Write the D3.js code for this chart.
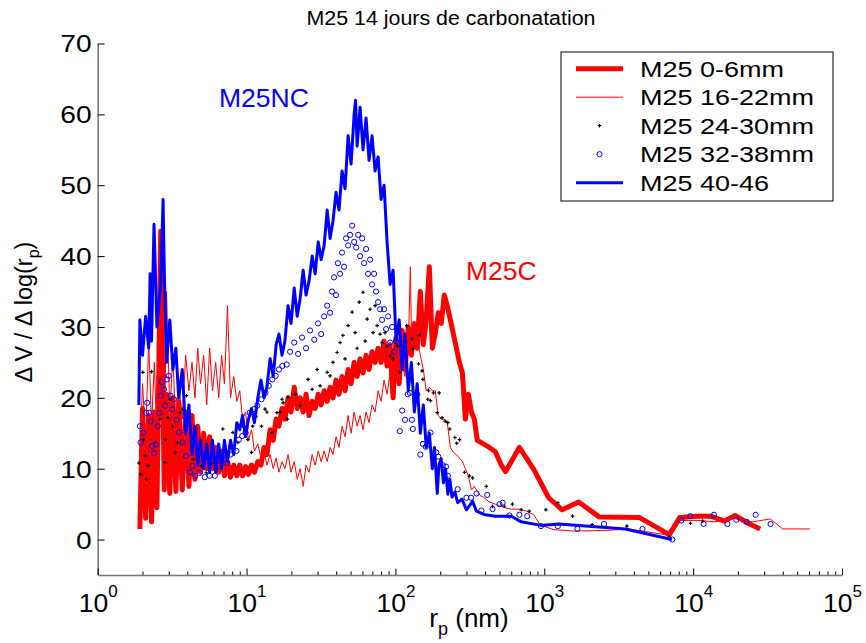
<!DOCTYPE html>
<html><head><meta charset="utf-8">
<script src="https://cdn.jsdelivr.net/npm/d3@7"></script>
<style>body{margin:0;background:#fff} svg{display:block}</style>
</head><body><svg width="866" height="643"></svg>
<script>
// ---------- texts ----------
const titleText = "M25 14 jours de carbonatation";
const yTicks = [0, 10, 20, 30, 40, 50, 60, 70];
const xTickExp = [0, 1, 2, 3, 4, 5];
const legendLabels = ["M25 0-6mm", "M25 16-22mm", "M25 24-30mm", "M25 32-38mm", "M25 40-46"];

// ---------- data: [r_p (nm), dV/dlog(r_p)] ----------
const red0to6 = [[1.92,1.5],[2.0,18.5],[2.1,3],[2.2,17.5],[2.3,2.5],[2.4,18],[2.5,4.5],[2.65,43.5],[2.8,7],[2.9,20.5],[3.05,6.5],[3.2,20],[3.35,6.8],[3.5,19.5],[3.7,7],[3.9,18],[4.1,7.5],[4.3,17.5],[4.5,8.5],[4.7,16],[4.9,9.5],[5.15,15],[5.4,10],[5.65,14.5],[5.9,10],[6.2,13],[6.5,9.5],[6.8,12.5],[7.1,9],[7.45,11],[7.8,8.8],[8.2,10.5],[8.6,9],[9.0,10.5],[9.4,9],[9.85,10.3],[10.3,9.2],[10.8,10.5],[11.3,9.5],[11.9,11],[12.5,10.5],[13.1,13],[13.7,12],[14.4,15.5],[15.1,14],[15.8,17],[16.5,16],[17.3,18.5],[18.1,17],[19.0,20],[19.9,18],[20.9,21.5],[21.9,18.5],[22.9,20],[24.0,18],[25.1,20.5],[26.3,17.5],[27.6,19.5],[28.9,18.5],[30.3,20.5],[31.7,19],[33.2,21],[34.8,19.5],[36.4,21.5],[38.1,20],[39.9,22.5],[41.8,20.5],[43.8,23],[45.9,21],[48.1,24],[50.4,22],[52.8,25],[55.3,23],[57.9,25.5],[60.6,23.5],[63.5,26],[66.5,24],[69.7,26.5],[73.0,25],[76.5,27],[80.1,25],[83.9,28],[87.9,24.5],[92.1,27.5],[96.5,20],[101,28.5],[106,22],[111,29.5],[116,24],[122,30],[128,26],[134,30.5],[140,27],[147,35],[154,27.5],[161,31],[169,38.5],[177,27],[185,29],[194,32],[203,30.5],[213,34.5],[223,33],[234,31],[245,29],[257,27],[269,25],[282,23.5],[295,17],[309,20.5],[324,18],[339,17],[355,14],[390,13.5],[428,13],[469,12.4],[515,10.5],[550,9.6],[680,13],[850,9.9],[1070,5.9],[1320,4.2],[1700,5.3],[2340,3.2],[4370,3.1],[6920,0.7],[8130,3.1],[10700,3.3],[13200,3.3],[16200,2.6],[19100,3.4],[23400,2.3],[28200,1.5]];

const red16to22 = [[1.92,12],[2.0,22],[2.1,14],[2.2,28],[2.3,16],[2.4,25],[2.5,14],[2.65,20],[2.8,12],[2.9,35],[3.05,18],[3.2,26],[3.35,15],[3.5,22],[3.7,17],[3.9,26],[4.1,21],[4.3,25],[4.5,20],[4.7,27],[4.9,22],[5.15,26],[5.4,19],[5.65,27],[5.9,21],[6.2,25],[6.5,20],[6.8,26],[7.1,22],[7.45,33],[7.8,20],[8.2,23],[8.6,19.5],[9.0,21],[9.4,17],[9.85,18],[10.3,14],[10.8,15.5],[11.3,12.5],[11.9,13.5],[12.5,11.5],[13.1,12.5],[13.7,10.5],[14.4,12],[15.1,10],[15.8,11.5],[16.5,9.5],[17.3,11],[18.1,10],[19.0,12],[19.9,9.5],[20.9,11],[21.9,8.5],[22.9,10],[24.0,7.5],[25.1,10.5],[26.3,9.5],[27.6,12],[28.9,10.5],[30.3,12.5],[31.7,11],[33.2,12.5],[34.8,11],[36.4,13],[38.1,12],[39.9,14.5],[41.8,13],[43.8,16],[45.9,14.5],[48.1,17.5],[50.4,15],[52.8,18],[55.3,16],[57.9,17.5],[60.6,15.5],[63.5,18],[66.5,16.5],[69.7,19],[73.0,18],[76.5,21],[80.1,19.5],[83.9,22.5],[87.9,20.5],[92.1,23.5],[96.5,21],[101,24],[106,22],[111,25],[116,23],[122,27],[126,38.5],[128,29],[134,27],[140,28.5],[147,26],[154,24],[161,21],[169,21.5],[177,21],[185,21],[194,17.5],[203,17],[213,17],[223,16.5],[234,13],[245,12.3],[257,12],[269,11.5],[282,11],[295,10],[309,9],[324,7],[339,7.5],[355,6.8],[372,6.2],[390,6],[428,5.3],[469,5],[540,4.5],[600,4.3],[690,4.3],[760,4.0],[850,3.5],[935,2.1],[1150,1.4],[1590,1.2],[2600,1.3],[3700,1.5],[6900,0.6],[7900,2.7],[10700,2.7],[14000,2.5],[18500,3.0],[25000,2.5],[33000,2.9],[40000,1.5],[61000,1.5]];

const black24to30 = [[1.89,10.8],[1.94,9.2],[2.01,23.6],[2.03,14.1],[2.08,11.8],[2.13,8.5],[2.18,10.4],[2.30,23.7],[2.43,13.7],[2.55,32.5],[2.62,17],[2.82,10.9],[2.86,14.1],[2.96,17.2],[3.06,19.8],[3.18,16],[3.31,12.3],[3.43,13.7],[3.58,17.9],[3.72,18.4],[3.95,20.3],[4.17,16],[4.38,11.3],[4.62,12.3],[4.98,10.4],[5.37,9.4],[5.8,10.8],[6.27,9.9],[6.93,15.6],[7.3,11.8],[7.7,13.2],[8.1,15.1],[8.75,13.7],[9.45,16],[10.2,14.1],[10.8,12.3],[11.0,16],[11.6,17.4],[12.6,16],[13.3,18.4],[13.7,18],[14.8,15.1],[16.0,17.9],[16.8,18],[17.3,19.8],[17.6,19.3],[18.8,17],[19.0,20.1],[21.2,20.5],[22.9,18.9],[25.9,22.6],[27.6,21.2],[29.8,24],[31.2,21.7],[34.8,23.6],[36.4,23.1],[38.1,25],[40.6,26.4],[42.5,27.8],[44.4,28.8],[45.9,25.5],[48.1,30.2],[51.2,32.1],[53.6,29.2],[55.3,27],[57.1,33.5],[60.6,34.9],[62.6,28],[64.6,31.1],[67.6,32.5],[70.8,29.2],[73,33],[75.4,30.2],[78.9,29],[81.4,27.8],[85.2,29.2],[87.9,27.3],[92.1,25.9],[96.5,25.5],[103,27.3],[107,23.6],[119,30.2],[129,28.3],[131,26.9],[143,24.8],[145,28.8],[151,23.8],[153,22.6],[165,19.8],[167,21],[172,19.6],[180,20.7],[191,17.9],[197,20.7],[206,17.2],[216,16.7],[225,16.5],[232,15.6],[251,14.4],[258,13.6],[270,14.1],[291,9.5],[314,9],[330,8.7],[408,7.5],[449,4.7],[540,4.7],[611,5],[700,4.2],[792,4],[1025,4.2],[1233,5.2],[1550,3.3],[2100,2.1],[3590,1.9],[6900,0.4],[9600,2.3],[11600,2.6]];

const blue32to38 = [[1.92,16.0],[1.94,13.7],[2.02,15.1],[2.11,17.9],[2.15,19.3],[2.22,17.9],[2.27,16.7],[2.32,13.2],[2.39,12.2],[2.46,13.4],[2.53,16.0],[2.59,17.9],[2.65,20.3],[2.70,22.2],[2.79,21.2],[2.84,18.9],[2.92,22.6],[3.0,23.1],[3.09,20.3],[3.17,18.4],[3.25,19.8],[3.39,16.9],[3.53,15.1],[3.72,13.7],[3.92,11.8],[4.17,9.5],[4.34,10.4],[4.52,9.0],[4.85,9.4],[5.24,8.8],[5.66,9.0],[6.12,9.0],[6.56,10.4],[6.98,11.3],[7.42,10.8],[7.81,12.0],[8.56,12.5],[8.88,14.1],[9.35,14.6],[9.85,15.1],[10.5,17.9],[11.2,18.4],[11.8,18.9],[12.6,19.8],[13.4,20.7],[14.1,21.7],[14.9,22.6],[15.7,23.1],[16.5,24.0],[17.4,24.5],[18.6,24.7],[19.6,26.5],[20.9,27.8],[22.2,26.2],[23.6,28.5],[25.1,27],[26.7,29.5],[28.5,28.2],[30.2,30.5],[31.7,29],[33.2,31.5],[34.8,33],[36.4,32],[37.5,35],[38.7,37],[39.9,34.5],[41.1,39],[42.5,37.5],[43.8,40.5],[45.2,38.5],[46.6,42.5],[48.1,41.5],[49.6,43],[51.2,44.3],[52.8,42],[54.5,41.2],[56.2,43],[57.9,40],[59.8,42.5],[61.6,39],[63.5,41],[65.5,37.5],[67.6,39.5],[69.7,36],[71.9,37.5],[74.1,35],[76.5,33.5],[78.9,32.5],[81.4,31],[83.9,32.5],[86.6,29.7],[89.3,31.5],[92.1,27.8],[95.0,30],[98,26.5],[101,28],[107,15.3],[111,18.2],[116,16.9],[121,20.5],[125,20.7],[129,16.9],[131,15.6],[140,20.5],[147,12],[153,13.5],[160,13.1],[172,15.1],[188,12.3],[194,11.7],[208,10.5],[219,10.3],[225,9],[262,7.1],[300,5.9],[322,5.9],[351,6.5],[378,4.1],[414,6.3],[449,4.3],[500,5],[525,5.2],[583,3.4],[680,3.5],[768,3.3],[950,1.9],[1233,1.9],[1670,1.5],[2520,2.2],[4570,1.5],[7240,0],[8320,2.7],[9550,3.3],[11750,2.2],[13800,3.5],[17000,2.2],[19500,2.8],[22900,2.5],[26300,3.5],[33100,2.2]];

const blue40to46 = [[1.89,19],[1.92,31],[2.0,26],[2.1,31.5],[2.2,27],[2.25,37.5],[2.3,28],[2.39,44.5],[2.5,30],[2.65,36],[2.75,48],[2.8,38],[2.9,25],[3.05,31],[3.2,24],[3.35,27],[3.5,20],[3.7,24],[3.9,15],[4.1,19],[4.3,12],[4.5,16],[4.7,10.5],[4.9,14],[5.15,10],[5.4,13.5],[5.65,9.5],[5.9,14],[6.2,9.5],[6.5,13.5],[6.8,10],[7.1,14],[7.45,11],[7.8,14],[8.2,12],[8.6,16.5],[9.0,15.5],[9.4,17.5],[9.85,14.5],[10.3,17],[10.8,18.5],[11.3,16.5],[11.9,20],[12.5,22.5],[13.1,20],[13.7,21.5],[14.4,25.5],[15.1,23],[15.8,27.5],[16.5,29],[17.3,26],[18.1,28],[19.0,33],[19.9,30.5],[20.9,35.5],[21.9,31.5],[22.9,34],[24.0,38],[25.1,34.5],[26.3,36.5],[27.6,40],[28.9,37.5],[30.3,42],[31.7,39.5],[33.2,41.5],[34.8,46.5],[36.4,42.5],[38.1,45],[39.9,49],[41.8,46.5],[43.8,52],[45.9,49.5],[48.1,57],[50.4,53],[52.8,60],[54,62],[55.3,55.5],[57.9,61],[60.6,55],[63.5,59.5],[66.5,53.5],[69.7,57],[73.0,52],[76.5,54],[80.1,48],[83.9,50],[87.9,42],[92.1,36],[96.5,38],[101,28],[106,31],[111,24],[116,29],[122,21],[128,25],[134,18],[140,22],[147,15],[154,19],[161,13],[169,15],[177,10],[183,13],[191,6.5],[196,10.5],[203,11.4],[210,8],[217,10],[225,6.4],[232,8.5],[240,6],[251,6.7],[262,5.2],[280,5.7],[300,4.2],[330,5.4],[350,4],[400,3.5],[470,3.3],[600,3.3],[700,2.5],[950,2.0],[1250,2.2],[3500,1.5],[7200,0]];

// ---------- drawing ----------
const FONT = "'Liberation Sans', Arial, Helvetica, sans-serif";
const svg = d3.select("svg").attr("font-family", FONT);
const x = d3.scaleLog().domain([1, 1e5]).range([97.7, 842]);
const y = d3.scaleLinear().domain([-5, 70]).range([575, 43.5]);

// title
svg.append("text").attr("transform", "translate(451,25) scale(1.07,1)")
  .attr("text-anchor", "middle").attr("font-size", 20).attr("fill", "#000").text(titleText);

// series
const line = d3.line().x(d => x(d[0])).y(d => y(d[1]));
const plot = svg.append("g");
plot.append("path").datum(red0to6).attr("d", line).attr("fill", "none")
  .attr("stroke", "#ff0000").attr("stroke-width", 5).attr("stroke-linejoin", "round");
plot.append("path").datum(red16to22).attr("d", line).attr("fill", "none")
  .attr("stroke", "#ff0000").attr("stroke-width", 1).attr("stroke-linejoin", "round");
plot.append("g").selectAll("path").data(black24to30).join("path")
  .attr("transform", d => `translate(${x(d[0])},${y(d[1])})`)
  .attr("d", "M-1.8,0H1.8M0,-1.8V1.8").attr("stroke", "#000").attr("stroke-width", 1.2);
plot.append("g").selectAll("circle").data(blue32to38).join("circle")
  .attr("cx", d => x(d[0])).attr("cy", d => y(d[1])).attr("r", 2.6)
  .attr("fill", "none").attr("stroke", "#0000ff").attr("stroke-width", 1);
plot.append("path").datum(blue40to46).attr("d", line).attr("fill", "none")
  .attr("stroke", "#0000ff").attr("stroke-width", 3).attr("stroke-linejoin", "round");

// y axis
const gy = svg.append("g").attr("transform", "translate(97.7,0)")
  .call(d3.axisLeft(y).tickValues(yTicks).tickSize(-7).tickSizeOuter(0).tickPadding(5));
gy.select(".domain").attr("stroke", "#777").attr("stroke-width", 1.5);
gy.selectAll(".tick line").attr("stroke", "#000");
gy.selectAll(".tick text").attr("font-size", 23.5).attr("font-family", FONT).attr("fill", "#000")
  .attr("dy", "0.36em").attr("transform", "scale(1.2,1)");

// x axis (minor + major ticks)
const majors = xTickExp.map(e => Math.pow(10, e));
const minors = x.ticks().filter(v => Math.abs(Math.log10(v) - Math.round(Math.log10(v))) > 1e-6);
const gxm = svg.append("g").attr("transform", "translate(0,575)")
  .call(d3.axisBottom(x).tickValues(minors).tickSize(-3.5).tickSizeOuter(0).tickFormat(""));
gxm.select(".domain").remove();
gxm.selectAll(".tick line").attr("stroke", "#000");
const gx = svg.append("g").attr("transform", "translate(0,575)")
  .call(d3.axisBottom(x).tickValues(majors).tickSize(-6.5).tickSizeOuter(0).tickFormat(""));
gx.select(".domain").attr("stroke", "#777").attr("stroke-width", 1.5);
gx.selectAll(".tick line").attr("stroke", "#000");
gx.selectAll(".tick").each(function(d, i) {
  const t = d3.select(this).append("text").attr("y", 36.7).attr("text-anchor", "middle")
    .attr("fill", "#000").attr("font-size", 26.5).attr("font-family", FONT);
  t.append("tspan").text("10");
  t.append("tspan").attr("dy", -14.5).attr("font-size", 17).text(xTickExp[i]);
});

// axis titles
const xl = svg.append("text").attr("x", 469).attr("y", 627).attr("text-anchor", "middle")
  .attr("font-size", 26).attr("fill", "#000");
xl.append("tspan").text("r");
xl.append("tspan").attr("dy", 8).attr("font-size", 18).text("p");
xl.append("tspan").attr("dy", -8).text(" (nm)");

const yl = svg.append("text").attr("transform", "translate(31.5,312) rotate(-90)")
  .attr("text-anchor", "middle").attr("font-size", 23.5).attr("fill", "#000");
yl.append("tspan").text("\u0394 V / \u0394 log(r");
yl.append("tspan").attr("dy", 7).attr("font-size", 16).text("p");
yl.append("tspan").attr("dy", -7).text(")");

// annotations
svg.append("text").attr("x", 219).attr("y", 107).attr("font-size", 26.5).attr("fill", "#0000ff").text("M25NC");
svg.append("text").attr("x", 466).attr("y", 280).attr("font-size", 26.5).attr("fill", "#ff0000").text("M25C");

// legend
const lg = svg.append("g");
lg.append("rect").attr("x", 561).attr("y", 52).attr("width", 272).attr("height", 149)
  .attr("fill", "#fff").attr("stroke", "#000").attr("stroke-width", 1);
const rowY = legendLabels.map((_, i) => 68.7 + i * 28.5);
lg.append("line").attr("x1", 576).attr("x2", 623).attr("y1", rowY[0]).attr("y2", rowY[0])
  .attr("stroke", "#ff0000").attr("stroke-width", 5);
lg.append("line").attr("x1", 576).attr("x2", 623).attr("y1", rowY[1]).attr("y2", rowY[1])
  .attr("stroke", "#ff0000").attr("stroke-width", 1);
lg.append("path").attr("transform", `translate(599.5,${rowY[2]})`).attr("d", "M-1.8,0H1.8M0,-1.8V1.8")
  .attr("stroke", "#000").attr("stroke-width", 1.2);
lg.append("circle").attr("cx", 599.5).attr("cy", rowY[3]).attr("r", 2.6)
  .attr("fill", "none").attr("stroke", "#0000ff").attr("stroke-width", 1);
lg.append("line").attr("x1", 576).attr("x2", 623).attr("y1", rowY[4]).attr("y2", rowY[4])
  .attr("stroke", "#0000ff").attr("stroke-width", 3);
legendLabels.forEach((lab, i) => {
  lg.append("text").attr("transform", `translate(640,${rowY[i] + 8}) scale(1.2,1)`)
    .attr("font-size", 22.5).attr("fill", "#000").text(lab);
});
</script></body></html>
